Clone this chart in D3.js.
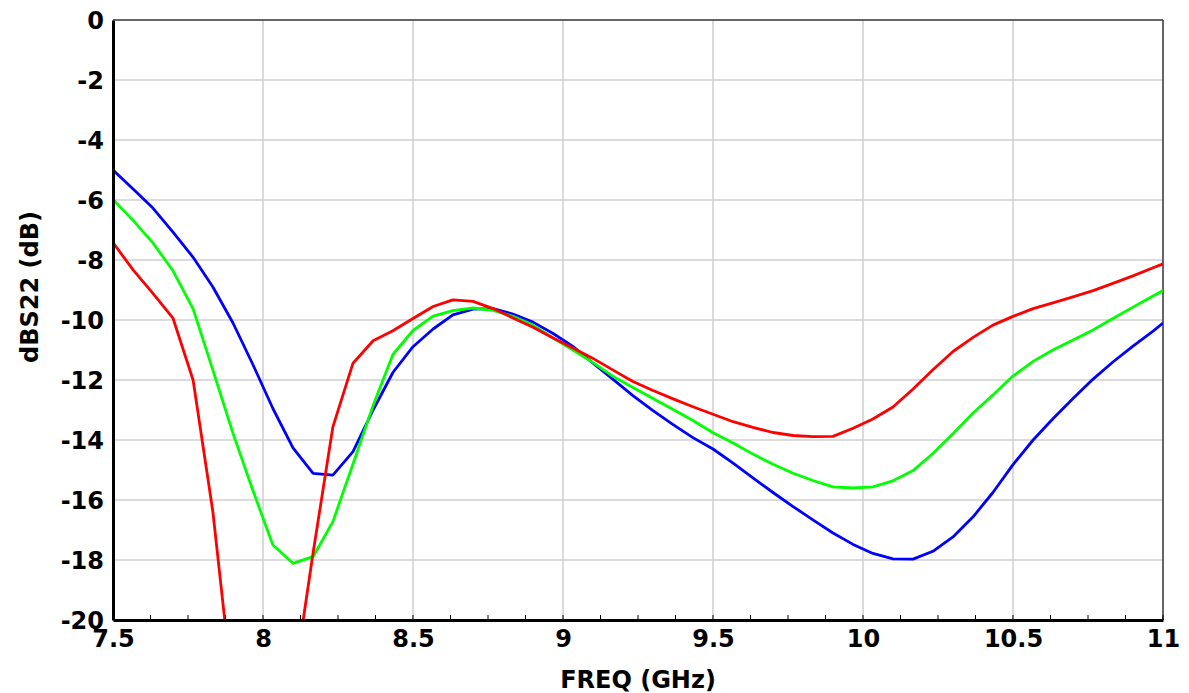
<!DOCTYPE html>
<html>
<head>
<meta charset="utf-8">
<script src="https://cdn.jsdelivr.net/npm/d3@7"></script>
<style>
  body { margin: 0; background: #fff; }
  svg { display: block; }
  text { font-family: "DejaVu Sans", sans-serif; font-weight: bold; fill: #000; }
</style>
</head>
<body>
<svg id="chart" width="1189" height="693"></svg>
<script>
// sweep points (GHz)
var freq = [7.5, 7.567, 7.633, 7.7, 7.767, 7.833, 7.9, 7.967, 8.033, 8.1,
  8.167, 8.233, 8.3, 8.367, 8.433, 8.5, 8.567, 8.633, 8.7, 8.767,
  8.833, 8.9, 8.967, 9.033, 9.1, 9.167, 9.233, 9.3, 9.367, 9.433,
  9.5, 9.567, 9.633, 9.7, 9.767, 9.833, 9.9, 9.967, 10.033, 10.1,
  10.167, 10.233, 10.3, 10.367, 10.433, 10.5, 10.567, 10.633, 10.7, 10.767,
  10.833, 10.9, 10.967, 11.0]

var blueDb = [-5.0, -5.63, -6.27, -7.07, -7.91, -8.9, -10.1, -11.5, -12.95, -14.26,
  -15.11, -15.17, -14.39, -13.0, -11.75, -10.89, -10.3, -9.83, -9.64, -9.62,
  -9.8, -10.07, -10.45, -10.88, -11.44, -11.98, -12.52, -13.02, -13.49, -13.92,
  -14.3, -14.77, -15.26, -15.75, -16.22, -16.66, -17.1, -17.48, -17.78, -17.96,
  -17.97, -17.71, -17.23, -16.56, -15.75, -14.82, -14.0, -13.29, -12.62, -11.97,
  -11.4, -10.87, -10.37, -10.1]

var greenDb = [-5.98, -6.68, -7.43, -8.36, -9.63, -11.67, -13.78, -15.7, -17.5, -18.11,
  -17.89, -16.72, -14.8, -12.85, -11.15, -10.35, -9.87, -9.69, -9.6, -9.68,
  -9.88, -10.17, -10.6, -11.0, -11.42, -11.88, -12.25, -12.62, -12.98, -13.35,
  -13.76, -14.1, -14.47, -14.81, -15.11, -15.35, -15.56, -15.6, -15.56, -15.36,
  -15.02, -14.45, -13.79, -13.1, -12.5, -11.87, -11.38, -11.0, -10.67, -10.33,
  -9.95, -9.57, -9.2, -9.02]

var redDb = [-7.42, -8.33, -9.11, -9.94, -12.0, -16.4, -22.5, -28.0, -30.0, -22.3,
  -17.76, -13.56, -11.44, -10.69, -10.36, -9.95, -9.55, -9.33, -9.38, -9.62,
  -9.93, -10.24, -10.6, -10.93, -11.28, -11.67, -12.05, -12.35, -12.63, -12.89,
  -13.14, -13.39, -13.58, -13.75, -13.85, -13.89, -13.88, -13.61, -13.3, -12.9,
  -12.3, -11.66, -11.05, -10.58, -10.17, -9.88, -9.62, -9.43, -9.23, -9.02,
  -8.78, -8.53, -8.26, -8.13]

var xTicks = [7.5, 8, 8.5, 9, 9.5, 10, 10.5, 11]
var yTicks = [0, -2, -4, -6, -8, -10, -12, -14, -16, -18, -20]

var series = [
  { name: 'blue', values: blueDb, color: '#0000ff' },
  { name: 'green', values: greenDb, color: '#00ff00' },
  { name: 'red', values: redDb, color: '#ff0000' }
]

var margin = { top: 20, right: 26, bottom: 73, left: 113 },
  svg = d3.select('#chart'),
  width = +svg.attr('width') - margin.left - margin.right,
  height = +svg.attr('height') - margin.top - margin.bottom

var x = d3.scaleLinear().domain([7.5, 11]).range([0, width])
var y = d3.scaleLinear().domain([-20, 0]).range([height, 0])

// plain hyphen for negatives, like the original plot
var fmt = function(d) { return String(d) }

var g = svg.append('g').attr('transform', 'translate(' + margin.left + ',' + margin.top + ')')

g.append('clipPath')
  .attr('id', 'plot-clip')
  .append('rect')
  .attr('width', width)
  .attr('height', height)

// grid
g.append('g')
  .selectAll('line')
  .data(xTicks.slice(1, -1))
  .enter()
  .append('line')
  .attr('x1', x).attr('x2', x)
  .attr('y1', 0).attr('y2', height)
  .attr('stroke', '#cfcfcf')
  .attr('stroke-width', 1.5)
g.append('g')
  .selectAll('line')
  .data(yTicks.slice(1, -1))
  .enter()
  .append('line')
  .attr('x1', 0).attr('x2', width)
  .attr('y1', y).attr('y2', y)
  .attr('stroke', '#cfcfcf')
  .attr('stroke-width', 1.5)

// frame: top and right thin
g.append('line').attr('x1', 0).attr('x2', width).attr('y1', 0).attr('y2', 0)
  .attr('stroke', '#333').attr('stroke-width', 1.5)
g.append('line').attr('x1', width).attr('x2', width).attr('y1', 0).attr('y2', height)
  .attr('stroke', '#333').attr('stroke-width', 1.5)

// traces
var line = d3.line()
  .x(function(d, i) { return x(freq[i]) })
  .y(function(d) { return y(d) })

g.append('g')
  .attr('clip-path', 'url(#plot-clip)')
  .selectAll('path')
  .data(series)
  .enter()
  .append('path')
  .attr('d', function(s) { return line(s.values) })
  .attr('fill', 'none')
  .attr('stroke', function(s) { return s.color })
  .attr('stroke-width', 2.8)
  .attr('stroke-linejoin', 'round')

// minor ticks on the freq axis (inside)
var xMinor = d3.range(7.5, 11.001, 0.125)
g.append('g')
  .selectAll('line')
  .data(xMinor)
  .enter()
  .append('line')
  .attr('x1', x).attr('x2', x)
  .attr('y1', height).attr('y2', height - 5)
  .attr('stroke', '#000').attr('stroke-width', 1)

// axes
var xAxis = g.append('g')
  .attr('transform', 'translate(0,' + height + ')')
  .call(d3.axisBottom(x).tickValues(xTicks).tickFormat(fmt).tickSize(0).tickPadding(10))
xAxis.select('.domain').attr('stroke', '#000').attr('stroke-width', 3)
xAxis.selectAll('text').style('font-size', '24px')

var yAxis = g.append('g')
  .call(d3.axisLeft(y).tickValues(yTicks).tickFormat(fmt).tickSize(0).tickPadding(9))
yAxis.select('.domain').attr('stroke', '#000').attr('stroke-width', 3)
yAxis.selectAll('text').style('font-size', '24px').attr('dy', '0.36em')

// titles
svg.append('text')
  .attr('x', margin.left + width / 2)
  .attr('y', 688)
  .attr('text-anchor', 'middle')
  .style('font-size', '24px')
  .text('FREQ (GHz)')

svg.append('text')
  .attr('transform', 'translate(38,287) rotate(-90)')
  .attr('text-anchor', 'middle')
  .style('font-size', '24px')
  .text('dBS22 (dB)')
</script>
</body>
</html>
